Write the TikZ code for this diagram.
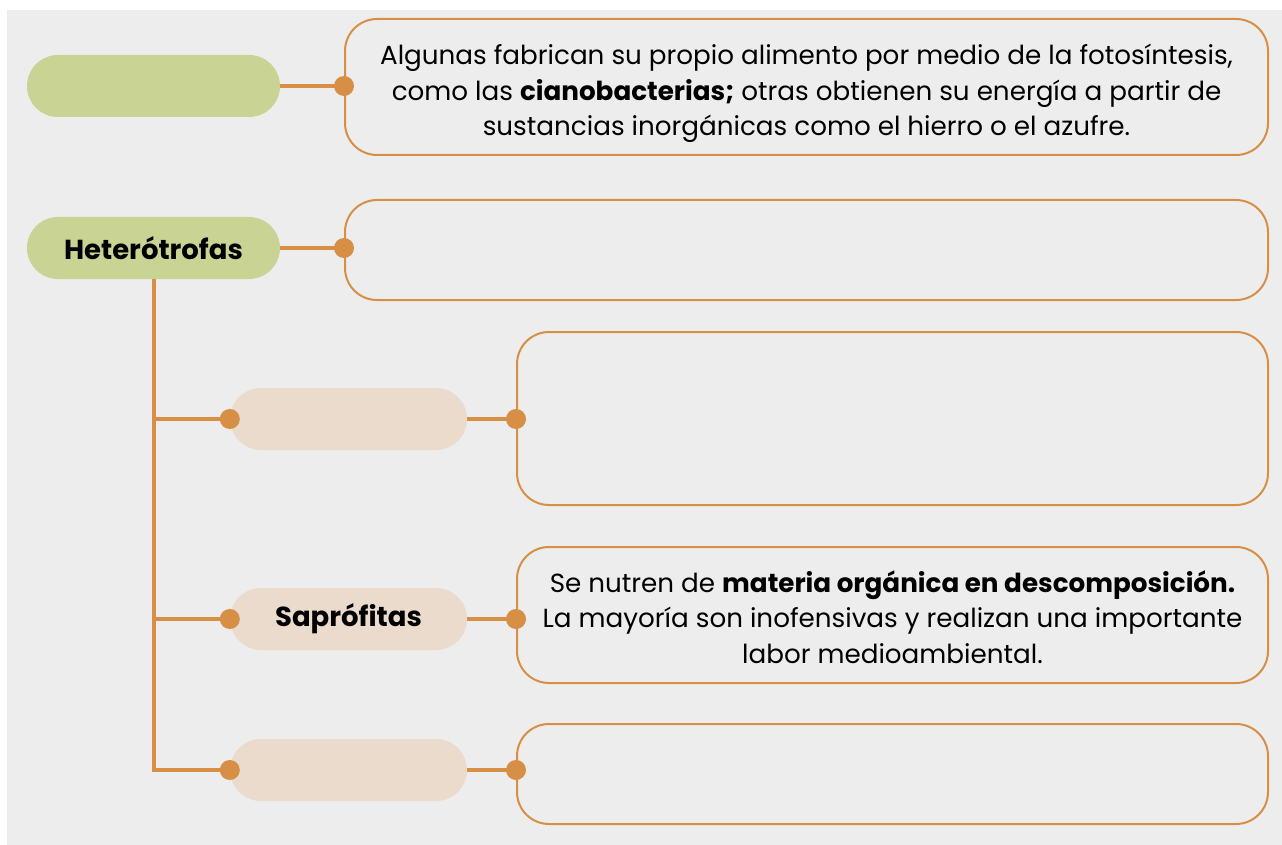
\documentclass[tikz,border=0pt]{standalone}
\usepackage{fontspec}
\setmainfont{Poppins}
\definecolor{bgc}{HTML}{EDEDED}
\definecolor{leaf}{HTML}{C9D494}
\definecolor{sand}{HTML}{EBDBCD}
\definecolor{ochre}{HTML}{D68F45}
\newcommand\lift[1]{\rule{0pt}{#1}}
\begin{document}
\begin{tikzpicture}[x=1pt,y=-1pt,
  pill/.style={rounded corners=31pt, minimum height=62pt, inner sep=0pt,
    font=\fontsize{27.5}{30}\selectfont\bfseries, text=black},
  greenpill/.style={pill, fill=leaf, minimum width=253pt},
  sandpill/.style={pill, fill=sand, minimum width=237pt},
  infobox/.style={draw=ochre, line width=2pt, rounded corners=32pt, inner sep=0pt,
    align=center, font=\fontsize{26.2}{35.5}\selectfont},
  link/.style={draw=ochre, line width=4pt},
  dot/.style={circle, fill=ochre, minimum size=20pt, inner sep=0pt}]
\useasboundingbox (0,0) rectangle (1282,845);
\fill[white] (0,0) rectangle (1282,845);
\fill[bgc] (7,10) rectangle (1282,845);

% pills
\node[greenpill] (p1) at (153.5,86) {};
\node[greenpill] (p2) at (153.5,248) {Heterótrofas};
\node[sandpill] (p3) at (348.5,419) {};
\node[sandpill] (p4) at (348.5,619) {Saprófitas};
\node[sandpill] (p5) at (348.5,770) {};

% boxes
\node[infobox, minimum width=923pt, minimum height=136pt] (b1) at (806.5,87)
  {\lift{34pt}Algunas fabrican su propio alimento por medio de la fotosíntesis,\\
   como las \textbf{cianobacterias;} otras obtienen su energía a partir de\\
   sustancias inorgánicas como el hierro o el azufre.};
\node[infobox, minimum width=923pt, minimum height=100pt] (b2) at (806.5,250) {};
\node[infobox, minimum width=751pt, minimum height=173pt] (b3) at (892.5,418.5) {};
\node[infobox, minimum width=751pt, minimum height=136pt] (b4) at (892.5,615)
  {\lift{26pt}Se nutren de \textbf{materia orgánica en descomposición.}\\
   La mayoría son inofensivas y realizan una importante\\
   labor medioambiental.};
\node[infobox, minimum width=751pt, minimum height=100pt] (b5) at (892.5,774) {};

% connectors
\draw[link] (p1.east) -- (p1.east -| b1.west);
\draw[link] (p2.east) -- (p2.east -| b2.west);
\draw[link] (p3.east) -- (p3.east -| b3.west);
\draw[link] (p4.east) -- (p4.east -| b4.west);
\draw[link] (p5.east) -- (p5.east -| b5.west);
\draw[link] (p2.south) -- (p2.south |- p5.west) -- (p5.west);
\draw[link] (p2.south |- p3.west) -- (p3.west);
\draw[link] (p2.south |- p4.west) -- (p4.west);

% dots
\node[dot] (d1) at (p1.east -| b1.west) {};
\node[dot] (d2) at (p2.east -| b2.west) {};
\node[dot] (d3) at (p3.east -| b3.west) {};
\node[dot] (d4) at (p4.east -| b4.west) {};
\node[dot] (d5) at (p5.east -| b5.west) {};
\node[dot] (e3) at (p3.west) {};
\node[dot] (e4) at (p4.west) {};
\node[dot] (e5) at (p5.west) {};
\end{tikzpicture}
\end{document}
